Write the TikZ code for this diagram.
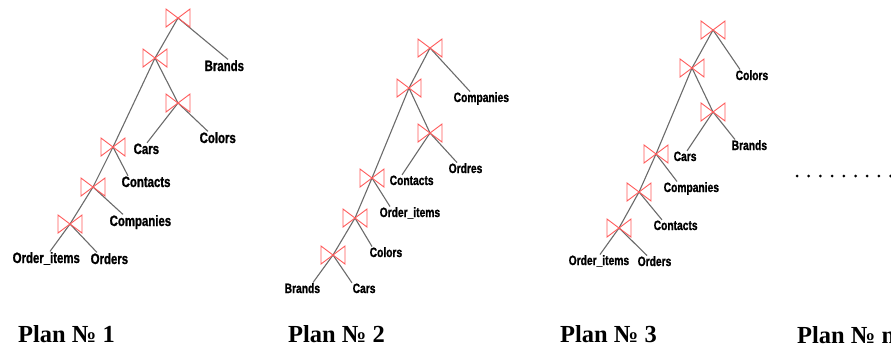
\documentclass[tikz,border=0pt]{standalone}
\usepackage{fontspec}
\usepackage{tikz}
\usetikzlibrary{calc, positioning}
\newfontfamily\tblfont{Liberation Sans}[FakeStretch=0.76, BoldFeatures={FakeBold=1.2}]
\newfontfamily\capfont{Liberation Serif}

\tikzset{
  edge/.style={draw=black!58, line width=1.1pt},
  tbl/.style={inner sep=0.5pt, anchor=base west, font=\tblfont\bfseries\fontsize{15}{15}\selectfont},
  tblsmall/.style={tbl, font=\tblfont\bfseries\fontsize{13.5}{13.5}\selectfont},
  plan/.style={anchor=base west, inner sep=0pt, font=\capfont\bfseries\fontsize{24.5}{24.5}\selectfont},
  bowtie/.pic={\draw[draw=red!65, line width=0.9pt, line join=miter]
    (-12,-9) -- (0,0) -- (-12,9) -- cycle (12,-9) -- (0,0) -- (12,9) -- cycle;}
}

\begin{document}
\begin{tikzpicture}[x=1pt, y=-1pt]
            \useasboundingbox (0,0) rectangle (891,349);

            % plan 1
            \coordinate (p1j1) at (178,18);
            \coordinate (p1j2) at (155,58);
            \coordinate (p1j3) at (178,103);
            \coordinate (p1j4) at (113,147);
            \coordinate (p1j5) at (93,187);
            \coordinate (p1j6) at (70,224);
            \node[tbl] (p1brands) at (204,71) {Brands};
            \node[tbl] (p1colors) at (199,143) {Colors};
            \node[tbl] (p1cars) at (133,154) {Cars};
            \node[tbl] (p1contacts) at (121,187) {Contacts};
            \node[tbl] (p1companies) at (109,226) {Companies};
            \node[tbl] (p1orderitems) at (12,263) {Order\_items};
            \node[tbl] (p1orders) at (90,264) {Orders};
            \draw[edge] (p1j1) -- (p1j2) -- (p1j4) -- (p1j5) -- (p1j6);
            \draw[edge] (p1j2) -- (p1j3);
            \draw[edge] (p1j1) -- ([xshift=24]p1brands.north west);
            \draw[edge] (p1j3) -- ([xshift=9]p1colors.north west);
            \draw[edge] (p1j3) -- ([xshift=14]p1cars.north west);
            \draw[edge] (p1j4) -- ([xshift=7]p1contacts.north west);
            \draw[edge] (p1j5) -- ([xshift=14]p1companies.north west);
            \draw[edge] (p1j6) -- ([xshift=38]p1orderitems.north west);
            \draw[edge] (p1j6) -- ([xshift=7]p1orders.north west);

            % plan 2
            \coordinate (p2j1) at (430,48);
            \coordinate (p2j2) at (409,88);
            \coordinate (p2j3) at (430,133);
            \coordinate (p2j4) at (372,178);
            \coordinate (p2j5) at (355,218);
            \coordinate (p2j6) at (333,255);
            \node[tblsmall] (p2companies) at (453,102) {Companies};
            \node[tblsmall] (p2ordres) at (448,173) {Ordres};
            \node[tblsmall] (p2contacts) at (389,185) {Contacts};
            \node[tblsmall] (p2orderitems) at (379,217) {Order\_items};
            \node[tblsmall] (p2colors) at (369,257) {Colors};
            \node[tblsmall] (p2brands) at (284,293) {Brands};
            \node[tblsmall] (p2cars) at (352,293) {Cars};
            \draw[edge] (p2j1) -- (p2j2) -- (p2j4) -- (p2j5) -- (p2j6);
            \draw[edge] (p2j2) -- (p2j3);
            \draw[edge] (p2j1) -- ([xshift=17]p2companies.north west);
            \draw[edge] (p2j3) -- ([xshift=9]p2ordres.north west);
            \draw[edge] (p2j3) -- ([xshift=13]p2contacts.north west);
            \draw[edge] (p2j4) -- ([xshift=11]p2orderitems.north west);
            \draw[edge] (p2j5) -- ([xshift=3]p2colors.north west);
            \draw[edge] (p2j6) -- ([xshift=29]p2brands.north west);
            \draw[edge] (p2j6) -- (p2cars.north west);

            % plan 3
            \coordinate (p3j1) at (713,30);
            \coordinate (p3j2) at (692,68);
            \coordinate (p3j3) at (713,112);
            \coordinate (p3j4) at (656,154);
            \coordinate (p3j5) at (639,192);
            \coordinate (p3j6) at (619,228);
            \node[tblsmall] (p3colors) at (735,80) {Colors};
            \node[tblsmall] (p3brands) at (731,150) {Brands};
            \node[tblsmall] (p3cars) at (673,161) {Cars};
            \node[tblsmall] (p3companies) at (663,192) {Companies};
            \node[tblsmall] (p3contacts) at (653,230) {Contacts};
            \node[tblsmall] (p3orderitems) at (568,265) {Order\_items};
            \node[tblsmall] (p3orders) at (637,266) {Orders};
            \draw[edge] (p3j1) -- (p3j2) -- (p3j4) -- (p3j5) -- (p3j6);
            \draw[edge] (p3j2) -- (p3j3);
            \draw[edge] (p3j1) -- ([xshift=5]p3colors.north west);
            \draw[edge] (p3j3) -- ([xshift=4]p3brands.north west);
            \draw[edge] (p3j3) -- ([xshift=14]p3cars.north west);
            \draw[edge] (p3j4) -- ([xshift=14]p3companies.north west);
            \draw[edge] (p3j5) -- ([xshift=9]p3contacts.north west);
            \draw[edge] (p3j6) -- ([xshift=32]p3orderitems.north west);
            \draw[edge] (p3j6) -- ([xshift=10]p3orders.north west);

            % join symbols on top
            \foreach \p in {p1,p2,p3}
              \foreach \j in {j1,j2,j3,j4,j5,j6}
                \pic at (\p\j) {bowtie};

            % more plans
            \foreach \i in {0,...,8}
              \fill (797+\i*11.7,176) circle (1.5);

            \node[plan] (plan1) at (18,342) {Plan № 1};
            \node[plan] (plan2) at (288,342) {Plan № 2};
            \node[plan] (plan3) at (560,342) {Plan № 3};
            \node[plan] (plann) at (797,343) {Plan № n};
        \end{tikzpicture}
\end{document}
